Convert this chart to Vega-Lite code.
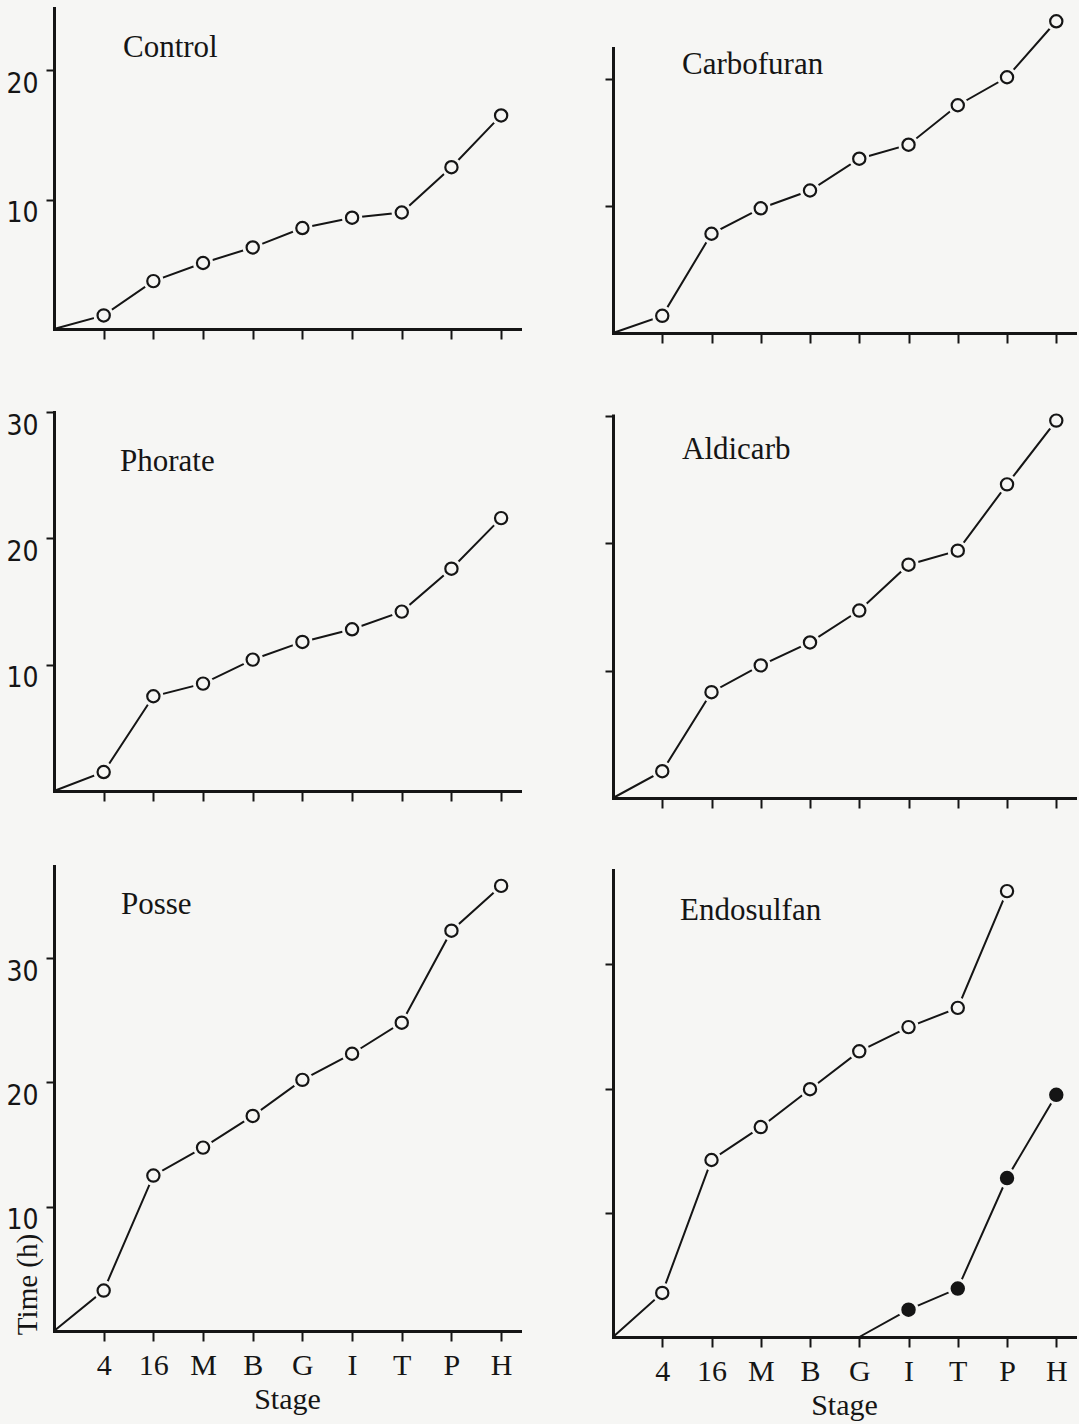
{
  "$schema": "https://vega.github.io/schema/vega-lite/v6.json",
  "background": "#f6f6f4",
  "padding": {"left": 5, "top": 8, "right": 4, "bottom": 4},
  "datasets": {
    "growth": [
      {"panel": "Control", "series": "open", "stage": "0", "time": 0},
      {"panel": "Control", "series": "open", "stage": "4", "time": 1.05},
      {"panel": "Control", "series": "open", "stage": "16", "time": 3.7},
      {"panel": "Control", "series": "open", "stage": "M", "time": 5.1},
      {"panel": "Control", "series": "open", "stage": "B", "time": 6.3},
      {"panel": "Control", "series": "open", "stage": "G", "time": 7.8},
      {"panel": "Control", "series": "open", "stage": "I", "time": 8.6},
      {"panel": "Control", "series": "open", "stage": "T", "time": 9.0},
      {"panel": "Control", "series": "open", "stage": "P", "time": 12.5},
      {"panel": "Control", "series": "open", "stage": "H", "time": 16.5},
      {"panel": "Carbofuran", "series": "open", "stage": "0", "time": 0},
      {"panel": "Carbofuran", "series": "open", "stage": "4", "time": 1.35},
      {"panel": "Carbofuran", "series": "open", "stage": "16", "time": 7.8},
      {"panel": "Carbofuran", "series": "open", "stage": "M", "time": 9.8},
      {"panel": "Carbofuran", "series": "open", "stage": "B", "time": 11.2},
      {"panel": "Carbofuran", "series": "open", "stage": "G", "time": 13.7},
      {"panel": "Carbofuran", "series": "open", "stage": "I", "time": 14.8},
      {"panel": "Carbofuran", "series": "open", "stage": "T", "time": 17.9},
      {"panel": "Carbofuran", "series": "open", "stage": "P", "time": 20.1},
      {"panel": "Carbofuran", "series": "open", "stage": "H", "time": 24.5},
      {"panel": "Phorate", "series": "open", "stage": "0", "time": 0},
      {"panel": "Phorate", "series": "open", "stage": "4", "time": 1.5},
      {"panel": "Phorate", "series": "open", "stage": "16", "time": 7.5},
      {"panel": "Phorate", "series": "open", "stage": "M", "time": 8.5},
      {"panel": "Phorate", "series": "open", "stage": "B", "time": 10.4},
      {"panel": "Phorate", "series": "open", "stage": "G", "time": 11.8},
      {"panel": "Phorate", "series": "open", "stage": "I", "time": 12.8},
      {"panel": "Phorate", "series": "open", "stage": "T", "time": 14.2},
      {"panel": "Phorate", "series": "open", "stage": "P", "time": 17.6},
      {"panel": "Phorate", "series": "open", "stage": "H", "time": 21.6},
      {"panel": "Aldicarb", "series": "open", "stage": "0", "time": 0},
      {"panel": "Aldicarb", "series": "open", "stage": "4", "time": 2.1},
      {"panel": "Aldicarb", "series": "open", "stage": "16", "time": 8.3},
      {"panel": "Aldicarb", "series": "open", "stage": "M", "time": 10.4},
      {"panel": "Aldicarb", "series": "open", "stage": "B", "time": 12.2},
      {"panel": "Aldicarb", "series": "open", "stage": "G", "time": 14.7},
      {"panel": "Aldicarb", "series": "open", "stage": "I", "time": 18.3},
      {"panel": "Aldicarb", "series": "open", "stage": "T", "time": 19.4},
      {"panel": "Aldicarb", "series": "open", "stage": "P", "time": 24.6},
      {"panel": "Aldicarb", "series": "open", "stage": "H", "time": 29.6},
      {"panel": "Posse", "series": "open", "stage": "0", "time": 0},
      {"panel": "Posse", "series": "open", "stage": "4", "time": 3.25},
      {"panel": "Posse", "series": "open", "stage": "16", "time": 12.5},
      {"panel": "Posse", "series": "open", "stage": "M", "time": 14.75},
      {"panel": "Posse", "series": "open", "stage": "B", "time": 17.3},
      {"panel": "Posse", "series": "open", "stage": "G", "time": 20.2},
      {"panel": "Posse", "series": "open", "stage": "I", "time": 22.3},
      {"panel": "Posse", "series": "open", "stage": "T", "time": 24.8},
      {"panel": "Posse", "series": "open", "stage": "P", "time": 32.2},
      {"panel": "Posse", "series": "open", "stage": "H", "time": 35.8},
      {"panel": "Endosulfan", "series": "open", "stage": "0", "time": 0},
      {"panel": "Endosulfan", "series": "open", "stage": "4", "time": 3.55},
      {"panel": "Endosulfan", "series": "open", "stage": "16", "time": 14.25},
      {"panel": "Endosulfan", "series": "open", "stage": "M", "time": 16.9},
      {"panel": "Endosulfan", "series": "open", "stage": "B", "time": 19.95},
      {"panel": "Endosulfan", "series": "open", "stage": "G", "time": 23.0},
      {"panel": "Endosulfan", "series": "open", "stage": "I", "time": 24.95},
      {"panel": "Endosulfan", "series": "open", "stage": "T", "time": 26.5},
      {"panel": "Endosulfan", "series": "open", "stage": "P", "time": 35.9},
      {"panel": "Endosulfan", "series": "filled", "stage": "G", "time": 0},
      {"panel": "Endosulfan", "series": "filled", "stage": "I", "time": 2.2},
      {"panel": "Endosulfan", "series": "filled", "stage": "T", "time": 3.9},
      {"panel": "Endosulfan", "series": "filled", "stage": "P", "time": 12.8},
      {"panel": "Endosulfan", "series": "filled", "stage": "H", "time": 19.5}
    ]
  },
  "data": {"name": "growth"},
  "columns": 2,
  "spacing": {"row": 68, "column": 93},
  "bounds": "flush",
  "concat": [
    {
      "width": 466, "height": 325,
      "title": {"text": "Control", "dx": 69, "dy": 60},
      "transform": [{"filter": "datum.panel == 'Control'"}],
      "encoding": {
        "x": {"field": "stage", "type": "ordinal",
          "scale": {"type": "point", "domain": ["0","4","16","M","B","G","I","T","P","H"], "padding": 0.19, "align": 0},
          "axis": {"values": ["4","16","M","B","G","I","T","P","H"], "labels": false, "title": null, "offset": -4}},
        "y": {"field": "time", "type": "quantitative",
          "scale": {"domain": [0, 24.8], "range": [321, 0], "nice": false, "zero": false},
          "axis": {"values": [10, 20], "title": null}}
      },
      "layer": [
        {"mark": {"type": "line", "stroke": "#151515", "strokeWidth": 2}, "encoding": {"detail": {"field": "series"}, "order": {"value": null}}},
        {"transform": [{"filter": "datum.time > 0"}], "mark": {"type": "circle", "size": 420, "color": "#f6f6f4", "opacity": 1}},
        {"transform": [{"filter": "datum.time > 0"}], "mark": {"type": "circle", "size": 150, "stroke": "#151515", "strokeWidth": 2.2, "opacity": 1},
          "encoding": {"fill": {"field": "series", "type": "nominal", "scale": {"domain": ["open", "filled"], "range": ["#f6f6f4", "#151515"]}, "legend": null}}}
      ]
    },
    {
      "width": 462, "height": 325,
      "title": {"text": "Carbofuran", "dx": 69, "dy": 77},
      "transform": [{"filter": "datum.panel == 'Carbofuran'"}],
      "encoding": {
        "x": {"field": "stage", "type": "ordinal",
          "scale": {"type": "point", "domain": ["0","4","16","M","B","G","I","T","P","H"], "padding": 0.19, "align": 0},
          "axis": {"values": ["4","16","M","B","G","I","T","P","H"], "labels": false, "title": null}},
        "y": {"field": "time", "type": "quantitative",
          "scale": {"domain": [0, 22.4], "range": [325, 40], "nice": false, "zero": false},
          "axis": {"values": [10, 20], "title": null, "labels": false}}
      },
      "layer": [
        {"mark": {"type": "line", "stroke": "#151515", "strokeWidth": 2}, "encoding": {"detail": {"field": "series"}, "order": {"value": null}}},
        {"transform": [{"filter": "datum.time > 0"}], "mark": {"type": "circle", "size": 420, "color": "#f6f6f4", "opacity": 1}},
        {"transform": [{"filter": "datum.time > 0"}], "mark": {"type": "circle", "size": 150, "stroke": "#151515", "strokeWidth": 2.2, "opacity": 1},
          "encoding": {"fill": {"field": "series", "type": "nominal", "scale": {"domain": ["open", "filled"], "range": ["#f6f6f4", "#151515"]}, "legend": null}}}
      ]
    },
    {
      "width": 466, "height": 397,
      "title": {"text": "Phorate", "dx": 66, "dy": 81},
      "transform": [{"filter": "datum.panel == 'Phorate'"}],
      "encoding": {
        "x": {"field": "stage", "type": "ordinal",
          "scale": {"type": "point", "domain": ["0","4","16","M","B","G","I","T","P","H"], "padding": 0.19, "align": 0},
          "axis": {"values": ["4","16","M","B","G","I","T","P","H"], "labels": false, "title": null, "offset": -7}},
        "y": {"field": "time", "type": "quantitative",
          "scale": {"domain": [0, 30], "range": [390, 11], "nice": false, "zero": false},
          "axis": {"values": [10, 20, 30], "title": null}}
      },
      "layer": [
        {"mark": {"type": "line", "stroke": "#151515", "strokeWidth": 2}, "encoding": {"detail": {"field": "series"}, "order": {"value": null}}},
        {"transform": [{"filter": "datum.time > 0"}], "mark": {"type": "circle", "size": 420, "color": "#f6f6f4", "opacity": 1}},
        {"transform": [{"filter": "datum.time > 0"}], "mark": {"type": "circle", "size": 150, "stroke": "#151515", "strokeWidth": 2.2, "opacity": 1},
          "encoding": {"fill": {"field": "series", "type": "nominal", "scale": {"domain": ["open", "filled"], "range": ["#f6f6f4", "#151515"]}, "legend": null}}}
      ]
    },
    {
      "width": 462, "height": 397,
      "title": {"text": "Aldicarb", "dx": 69, "dy": 69},
      "transform": [{"filter": "datum.panel == 'Aldicarb'"}],
      "encoding": {
        "x": {"field": "stage", "type": "ordinal",
          "scale": {"type": "point", "domain": ["0","4","16","M","B","G","I","T","P","H"], "padding": 0.19, "align": 0},
          "axis": {"values": ["4","16","M","B","G","I","T","P","H"], "labels": false, "title": null}},
        "y": {"field": "time", "type": "quantitative",
          "scale": {"domain": [0, 30], "range": [397, 14.5], "nice": false, "zero": false},
          "axis": {"values": [10, 20, 30], "title": null, "labels": false}}
      },
      "layer": [
        {"mark": {"type": "line", "stroke": "#151515", "strokeWidth": 2}, "encoding": {"detail": {"field": "series"}, "order": {"value": null}}},
        {"transform": [{"filter": "datum.time > 0"}], "mark": {"type": "circle", "size": 420, "color": "#f6f6f4", "opacity": 1}},
        {"transform": [{"filter": "datum.time > 0"}], "mark": {"type": "circle", "size": 150, "stroke": "#151515", "strokeWidth": 2.2, "opacity": 1},
          "encoding": {"fill": {"field": "series", "type": "nominal", "scale": {"domain": ["open", "filled"], "range": ["#f6f6f4", "#151515"]}, "legend": null}}}
      ]
    },
    {
      "width": 466, "height": 471,
      "title": {"text": "Posse", "dx": 67, "dy": 59},
      "transform": [{"filter": "datum.panel == 'Posse'"}],
      "encoding": {
        "x": {"field": "stage", "type": "ordinal",
          "scale": {"type": "point", "domain": ["0","4","16","M","B","G","I","T","P","H"], "padding": 0.19, "align": 0},
          "axis": {"values": ["4","16","M","B","G","I","T","P","H"], "title": "Stage", "offset": -6}},
        "y": {"field": "time", "type": "quantitative",
          "scale": {"domain": [0, 37.4], "range": [465, 0], "nice": false, "zero": false},
          "axis": {"values": [10, 20, 30], "title": "Time (h)", "titleX": -27, "titleY": 418, "titleAngle": 270, "titleBaseline": "middle", "titleAlign": "center", "titleFontSize": 29}}
      },
      "layer": [
        {"mark": {"type": "line", "stroke": "#151515", "strokeWidth": 2}, "encoding": {"detail": {"field": "series"}, "order": {"value": null}}},
        {"transform": [{"filter": "datum.time > 0"}], "mark": {"type": "circle", "size": 420, "color": "#f6f6f4", "opacity": 1}},
        {"transform": [{"filter": "datum.time > 0"}], "mark": {"type": "circle", "size": 150, "stroke": "#151515", "strokeWidth": 2.2, "opacity": 1},
          "encoding": {"fill": {"field": "series", "type": "nominal", "scale": {"domain": ["open", "filled"], "range": ["#f6f6f4", "#151515"]}, "legend": null}}}
      ]
    },
    {
      "width": 462, "height": 471,
      "title": {"text": "Endosulfan", "dx": 67, "dy": 65},
      "transform": [{"filter": "datum.panel == 'Endosulfan'"}],
      "encoding": {
        "x": {"field": "stage", "type": "ordinal",
          "scale": {"type": "point", "domain": ["0","4","16","M","B","G","I","T","P","H"], "padding": 0.19, "align": 0},
          "axis": {"values": ["4","16","M","B","G","I","T","P","H"], "title": "Stage"}},
        "y": {"field": "time", "type": "quantitative",
          "scale": {"domain": [0, 37.6], "range": [471, 4], "nice": false, "zero": false},
          "axis": {"values": [10, 20, 30], "title": null, "labels": false}}
      },
      "layer": [
        {"mark": {"type": "line", "stroke": "#151515", "strokeWidth": 2}, "encoding": {"detail": {"field": "series"}, "order": {"value": null}}},
        {"transform": [{"filter": "datum.time > 0"}], "mark": {"type": "circle", "size": 420, "color": "#f6f6f4", "opacity": 1}},
        {"transform": [{"filter": "datum.time > 0"}], "mark": {"type": "circle", "size": 150, "stroke": "#151515", "strokeWidth": 2.2, "opacity": 1},
          "encoding": {"fill": {"field": "series", "type": "nominal", "scale": {"domain": ["open", "filled"], "range": ["#f6f6f4", "#151515"]}, "legend": null}}}
      ]
    }
  ],
  "config": {
    "view": {"stroke": null},
    "title": {"anchor": "start", "frame": "group", "orient": "top", "baseline": "alphabetic", "offset": 0, "font": "Liberation Serif", "fontSize": 31, "fontWeight": "normal", "color": "#151515"},
    "axis": {"grid": false, "domainColor": "#151515", "domainWidth": 3, "domainCap": "square", "tickColor": "#151515", "tickWidth": 2, "labelColor": "#151515", "titleColor": "#151515", "titleFont": "Liberation Serif", "titleFontWeight": "normal", "titleFontSize": 30},
    "axisX": {"labelFont": "Liberation Serif", "labelFontSize": 30, "labelPadding": 9, "tickSize": 10, "labelAngle": 0, "titlePadding": 4},
    "axisY": {"labelFont": "DejaVu Sans Condensed, sans-serif", "labelFontSize": 28, "labelBaseline": "top", "tickSize": 8, "labelPadding": 8}
  }
}
